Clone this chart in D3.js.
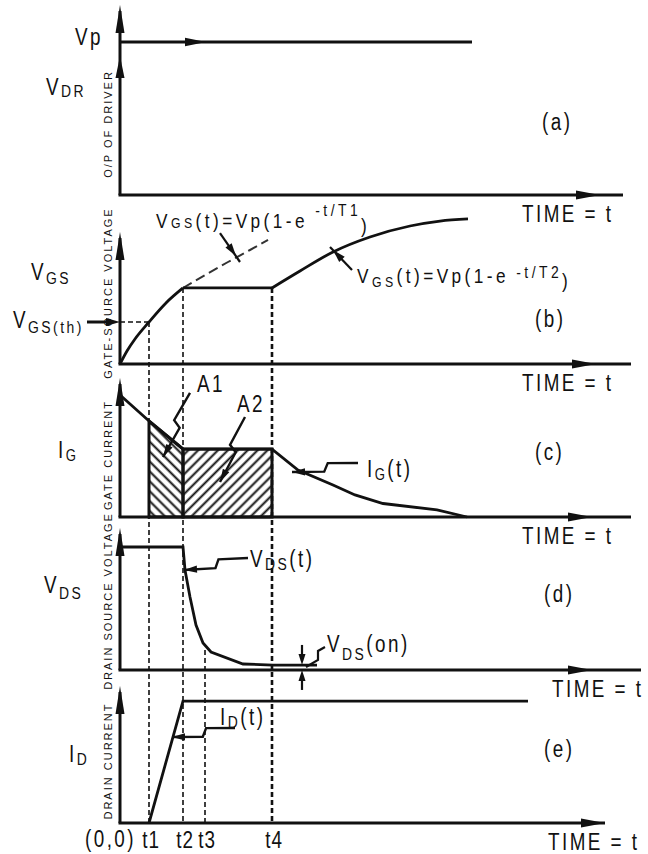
<!DOCTYPE html>
<html>
<head>
<meta charset="utf-8">
<script src="https://cdn.jsdelivr.net/npm/d3@7"></script>
<style>
  body { margin: 0; background: #fff; }
  svg text { font-family: "Liberation Sans", Arial, sans-serif; fill: #111; letter-spacing: 3px; }
  svg text.side { font-size: 11px; letter-spacing: 2px; }
</style>
</head>
<body>
<svg id="chart" width="648" height="854"></svg>
<script>
// switching instants, in time units
var tMarks = ["t1", "t2", "t3", "t4"];
var tValues = [5.8, 12.6, 17, 30.4];

// (a) driver output
var vpLevel = 10.2, vpEnd = 70.4;

// (b) gate-source voltage
var vgsRise = [[0, 0], [1.4, 0.87], [3, 1.67], [5.8, 2.8], [9.2, 4.07], [12.6, 5.07]];
var vgsDashed = [[12.6, 5.07], [17, 5.93], [21.6, 6.8], [26, 7.6], [29.6, 8.27]];
var vgsPlateau = [[12.6, 5.07], [30.4, 5.07]];
var vgsTail = [[30.4, 5.07], [36, 6.2], [42.6, 7.47], [50, 8.47], [58, 9.2], [64, 9.53], [69.6, 9.67]];
var vgsTh = 2.8;

// (c) gate current
var igCurve = [[0, 8.13], [5.8, 6.4], [12.6, 4.53], [30.4, 4.53], [35.6, 3.13], [42.6, 2.13],
               [47, 1.47], [52.6, 0.9], [63.4, 0.47], [69.4, 0]];

// (d) drain-source voltage
var vdsCurve = [[0, 8.2], [12.6, 8.2], [13, 6.67], [14, 4.87], [15.2, 3.0], [16.6, 1.8],
                [18.2, 1.2], [24.6, 0.4], [30.6, 0.33], [39.4, 0.33]];

// (e) drain current
var idCurve = [[5.8, 0], [12.6, 8.13], [81.6, 8.13]];

var panels = [
  {id: "a", base: 195, top: 5,   axisEnd: 623, tip: 600},
  {id: "b", base: 364, top: 232, axisEnd: 631, tip: 596},
  {id: "c", base: 517, top: 378, axisEnd: 631, tip: 592},
  {id: "d", base: 670, top: 528, axisEnd: 641, tip: 592},
  {id: "e", base: 823, top: 686, axisEnd: 605, tip: 605}
];

var svg = d3.select("#chart");
var ink = "#111";
var narrow = 0.82; // fake a condensed face

var x = d3.scaleLinear().domain([0, 100]).range([120, 620]);
var y = {};
panels.forEach(function(p) {
  y[p.id] = d3.scaleLinear().domain([0, 10]).range([p.base, p.base - 150]);
});

function line(id, curve) {
  return d3.line()
    .x(function(d) { return x(d[0]); })
    .y(function(d) { return y[id](d[1]); })
    .curve(curve || d3.curveLinear);
}

function head(x1, y1, x2, y2, len, w) {
  var a = Math.atan2(y2 - y1, x2 - x1), c = Math.cos(a), s = Math.sin(a);
  var bx = x2 - len * c, by = y2 - len * s;
  svg.append("path")
    .attr("d", "M" + x2 + "," + y2 + "L" + (bx - w * s) + "," + (by + w * c) +
               "L" + (bx + w * s) + "," + (by - w * c) + "Z")
    .attr("fill", ink);
}

function seg(x1, y1, x2, y2, w, dash) {
  svg.append("line")
    .attr("x1", x1).attr("y1", y1).attr("x2", x2).attr("y2", y2)
    .attr("stroke", ink).attr("stroke-width", w)
    .attr("stroke-dasharray", dash || null);
}

// lightning style leader with an arrow head at the tip
function bolt(id, from, to) {
  var sx = x(from[0]), sy = y[id](from[1]), ex = x(to[0]), ey = y[id](to[1]);
  var dx = ex - sx, dy = ey - sy, L = Math.hypot(dx, dy);
  var nx = -dy / L * 4, ny = dx / L * 4;
  var pts = [[sx, sy], [sx + dx * 0.45 + nx, sy + dy * 0.45 + ny],
             [sx + dx * 0.52 - nx, sy + dy * 0.52 - ny], [ex, ey]];
  svg.append("path").attr("d", d3.line()(pts))
    .attr("fill", "none").attr("stroke", ink).attr("stroke-width", 2.4);
  head(pts[2][0], pts[2][1], ex, ey, 13, 3.6);
}

function label(px, py, parts) {
  var t = svg.append("text")
    .attr("transform", "translate(" + px + "," + py + ") scale(" + narrow + ",1)");
  parts.forEach(function(d) {
    t.append("tspan").attr("y", d[2] || 0).style("font-size", d[1] + "px").text(d[0]);
  });
  return t;
}

// hatch patterns for A1 / A2
var defs = svg.append("defs");
[["hatchA1", -45], ["hatchA2", 45]].forEach(function(h) {
  defs.append("pattern").attr("id", h[0])
    .attr("patternUnits", "userSpaceOnUse").attr("width", 7).attr("height", 7)
    .attr("patternTransform", "rotate(" + h[1] + ")")
    .append("line").attr("x1", 3.5).attr("y1", 0).attr("x2", 3.5).attr("y2", 7)
    .attr("stroke", ink).attr("stroke-width", 2);
});

var t1 = tValues[0], t2 = tValues[1], t3 = tValues[2], t4 = tValues[3];
var igPlateau = igCurve[2][1];
var a1 = [[t1, 0], [t1, igCurve[1][1]], [t2, igPlateau], [t2, 0]];
var a2 = [[t2, 0], [t2, igPlateau], [t4, igPlateau], [t4, 0]];
svg.append("path").attr("d", line("c")(a1) + "Z").attr("fill", "url(#hatchA1)")
  .attr("stroke", ink).attr("stroke-width", 3);
svg.append("path").attr("d", line("c")(a2) + "Z").attr("fill", "url(#hatchA2)")
  .attr("stroke", ink).attr("stroke-width", 3);

// dashed guides
seg(x(0), y.b(vgsTh), x(t1), y.b(vgsTh), 1.6, "5,3");
seg(x(t1), y.b(vgsTh), x(t1), y.e(0), 1.6, "5,3");
seg(x(t2), y.b(vgsPlateau[0][1]), x(t2), y.e(0), 1.6, "5,3");
seg(x(t3), y.d(1.33), x(t3), y.e(0), 1.6, "5,3");
seg(x(t4), y.b(vgsPlateau[0][1]), x(t4), y.e(0), 2.6, "5,3");

// axes
panels.forEach(function(p) {
  seg(x(0), p.base, x(0), p.top + 6, 3);
  head(x(0), p.base, x(0), p.top, 28, 4.5);
  seg(x(0) - 1.5, p.base, p.axisEnd, p.base, 3);
  head(x(0), p.base, p.tip, p.base, 24, 4.5);
  label(p.id === "d" ? 552 : (p.id === "e" ? 548 : 522), p.base + 27, [["TIME = t", 23]]);
});

// (a)
seg(x(0), y.a(vpLevel), x(vpEnd), y.a(vpLevel), 3.2);
head(x(0), y.a(vpLevel), x(17.2), y.a(vpLevel), 21, 4.2);
head(x(0), y.a(0), x(0), y.a(9.27), 22, 4.5);

// (b)
svg.append("path").attr("d", line("b", d3.curveMonotoneX)(vgsRise))
  .attr("fill", "none").attr("stroke", ink).attr("stroke-width", 2.8);
svg.append("path").attr("d", line("b", d3.curveMonotoneX)(vgsDashed))
  .attr("fill", "none").attr("stroke", "#333").attr("stroke-width", 2).attr("stroke-dasharray", "10,5");
svg.append("path").attr("d", line("b")(vgsPlateau))
  .attr("fill", "none").attr("stroke", ink).attr("stroke-width", 2.8);
svg.append("path").attr("d", line("b", d3.curveMonotoneX)(vgsTail))
  .attr("fill", "none").attr("stroke", ink).attr("stroke-width", 2.8);
seg(87, y.b(vgsTh), 110, y.b(vgsTh), 3);
head(87, y.b(vgsTh), x(0), y.b(vgsTh), 14, 4);
seg(x(20), y.b(8.73), x(24), y.b(6.8), 2.2);
head(x(20), y.b(8.73), x(23.2), y.b(7.2), 13, 3.8);
seg(x(46.4), y.b(6.27), x(42), y.b(7.8), 2.2);
head(x(46.4), y.b(6.27), x(42.6), y.b(7.6), 13, 3.8);

// (c)
svg.append("path").attr("d", line("c")(igCurve))
  .attr("fill", "none").attr("stroke", ink).attr("stroke-width", 2.8);
bolt("c", [14, 8.27], [8.6, 4.0]);
bolt("c", [25, 6.67], [20, 2.33]);
bolt("c", [47.6, 3.6], [34.4, 3.0]);

// (d)
svg.append("path").attr("d", line("d")(vdsCurve))
  .attr("fill", "none").attr("stroke", ink).attr("stroke-width", 2.8);
bolt("d", [25.6, 7.47], [12.8, 6.67]);
seg(x(36.4), y.d(1.67), x(36.4), y.d(0.6), 2.2);
head(x(36.4), y.d(1.67), x(36.4), y.d(0.33), 11, 3.5);
seg(x(36.4), y.d(-1.33), x(36.4), y.d(-0.3), 2.2);
head(x(36.4), y.d(-1.33), x(36.4), y.d(0), 11, 3.5);
svg.append("path")
  .attr("d", line("d")([[41, 1.53], [39.6, 1.27], [39.6, 0.67], [37.2, 0.2]]))
  .attr("fill", "none").attr("stroke", ink).attr("stroke-width", 2.2);

// (e)
svg.append("path").attr("d", line("e")(idCurve))
  .attr("fill", "none").attr("stroke", ink).attr("stroke-width", 2.8);
bolt("e", [23, 6.33], [10.4, 5.73]);

// left hand labels
label(75, 45, [["Vp", 23]]);
label(46, 95, [["V", 23], ["DR", 17, 2]]);
label(31, 280, [["V", 23], ["GS", 17, 4]]);
label(13, 328, [["V", 23], ["GS(th)", 17, 5]]);
label(58, 458, [["I", 23], ["G", 16, 3]]);
label(44, 593, [["V", 23], ["DS", 17, 6]]);
label(69, 762, [["I", 23], ["D", 17, 3]]);

// panel tags
label(542, 130, [["(a)", 23]]);
label(535, 327, [["(b)", 23]]);
label(535, 460, [["(c)", 23]]);
label(544, 602, [["(d)", 23]]);
label(544, 757, [["(e)", 23]]);

// curve annotations
label(156, 228, [["V", 21], ["GS", 15], ["(t)=Vp(1-e", 21], [" -t/T1", 17, -12], [")", 21, 5]]).style("letter-spacing", "4.2px");
label(357, 283, [["V", 21], ["GS", 15, 4], ["(t)=Vp(1-e", 21], [" -t/T2", 17, -5], [")", 21, 5]]).style("letter-spacing", "4.2px");
label(197, 392, [["A1", 23]]);
label(237, 412, [["A2", 23]]);
label(367, 477, [["I", 23], ["G", 16, 3], ["(t)", 23]]);
label(250, 567, [["V", 23], ["DS", 17, 3], ["(t)", 23]]);
label(327, 652, [["V", 23], ["DS", 17, 8], ["(on)", 23]]);
label(220, 725, [["I", 23], ["D", 17, 3], ["(t)", 23]]);

// time axis marks
label(85, 847, [["(0,0)", 23]]);
tMarks.forEach(function(m, i) {
  label(x(tValues[i]) + 2, 848, [[m, 23]]).attr("text-anchor", "middle").style("letter-spacing", "1px");
});

// rotated axis titles
[["O/P OF DRIVER", 124], ["GATE-SOURCE VOLTAGE", 293], ["GATE CURRENT", 455],
 ["DRAIN SOURCE VOLTAGE", 601], ["DRAIN CURRENT", 761]].forEach(function(s) {
  svg.append("text").attr("class", "side")
    .attr("transform", "translate(112," + s[1] + ") rotate(-90)")
    .attr("text-anchor", "middle").text(s[0]);
});
</script>
</body>
</html>
